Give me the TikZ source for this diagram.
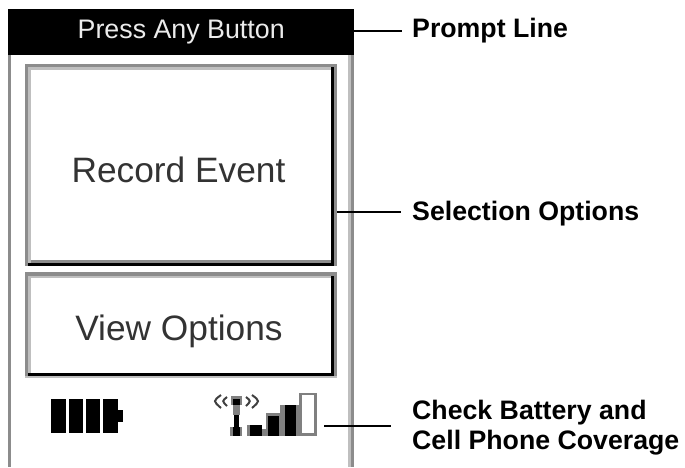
\documentclass[tikz,border=0pt]{standalone}
\usepackage{fontspec}
\setmainfont{Liberation Sans}
\begin{document}
\begin{tikzpicture}[x=1pt,y=-1pt,
  lbl/.style={font=\bfseries\fontsize{26.7}{30}\selectfont,anchor=west,align=left,inner sep=0pt},
  btn/.style={font=\fontsize{35.3}{40}\selectfont,text=black!80,inner sep=0pt},
  lead/.style={line width=2pt,black},
  arc/.style={black!75,line width=2pt}]
\useasboundingbox (0,0) rectangle (685,467);
\fill[white] (0,0) rectangle (685,467);
% phone sides
\fill[black!45] (8,55) rectangle (11,467);
\fill[black!25] (348,55) rectangle (351,467);
\fill[black!45] (351,55) rectangle (353.5,467);
% prompt
\node[fill=black,text=white!92!black,minimum width=346pt,minimum height=46pt,inner sep=0pt,anchor=north west,font=\fontsize{26.8}{30}\selectfont] (prompt) at (8,9) {Press Any Button};
% top button
\fill[black!45] (25,63.5) rectangle (337,266);
\fill[black!25] (28,66.7) rectangle (333.5,263);
\fill[black] (28,263) rectangle (333.5,266);
\fill[black] (331,66.7) rectangle (333.5,263);
\fill[black!45] (31,260) rectangle (331,263);
\fill[white] (31,70) rectangle (331,260);
% lower button
\fill[black!25] (25,376) rectangle (337,378);
\fill[black!45] (25,272) rectangle (337,376);
\fill[black!25] (28,276) rectangle (333.5,373);
\fill[black] (331,276) rectangle (333.5,373);
\fill[black] (28,373) rectangle (333.5,376);
\fill[white] (31,278) rectangle (331,373);
\coordinate (ba) at (337,212);
\node[btn] (rec) at (178.5,170) {Record Event};
\node[btn] (view) at (179,331) {View Options};
% battery
\fill[black] (51,399) rectangle (66,433);
\fill[black] (69,399) rectangle (83,433);
\fill[black] (86,399) rectangle (100,433);
\fill[black] (103,399) rectangle (118,433);
\fill[black] (118,410) rectangle (123,422);
% antenna
\fill[black!50] (231,396) rectangle (242,405);
\fill[black] (233,399) rectangle (240,405);
\fill[black!50] (233,405) rectangle (240,415);
\fill[black] (234,415) rectangle (239,436);
\fill[black!50] (230,427) rectangle (242,436);
\fill[black] (233,427) rectangle (240,436);
\draw[arc] (221,395) .. controls (213,401) .. (221,408);
\draw[arc] (227,397) .. controls (222,401) .. (227,406);
\draw[arc] (252,395) .. controls (260,401) .. (252,408);
\draw[arc] (246,397) .. controls (251,401) .. (246,406);
% signal
\fill[black!50] (247,425) rectangle (262,436);
\fill[black] (250,425) rectangle (262,436);
\fill[black!50] (262,429) rectangle (268,436);
\fill[black!50] (266,413) rectangle (280,436);
\fill[black] (268,416) rectangle (279,436);
\fill[black!50] (280,405) rectangle (285,436);
\fill[black] (285,405) rectangle (296,436);
\fill[black!50] (296,405) rectangle (300,436);
\fill[black!50] (299,393) rectangle (317,436);
\fill[white] (302,395) rectangle (314,433);
\coordinate (sig) at (324,426);
% labels
\node[lbl] (l1) at (412,31) {Prompt Line};
\node[lbl] (l2) at (412,214) {Selection Options};
\node[lbl] (l3) at (412,427.5) {Check Battery and\\Cell Phone Coverage};
\coordinate (e3) at (391,426);
\coordinate (e2) at (401,212);
\coordinate (e1) at (402,31);
\draw[lead] (prompt.east |- e1) -- (e1);
\draw[lead] (ba) -- (e2);
\draw[lead] (sig) -- (e3);
\end{tikzpicture}
\end{document}
